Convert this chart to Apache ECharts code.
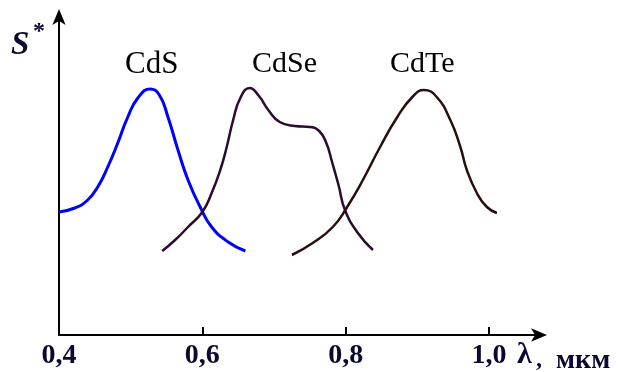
<!DOCTYPE html>
<html><head><meta charset="utf-8">
<script src="https://cdn.jsdelivr.net/npm/echarts@6/dist/echarts.min.js"></script>
<style>html,body{margin:0;padding:0;background:#fff}#c{width:619px;height:372px}</style>
</head><body><div id="c"></div>
<script>
const xTicks = [0.4, 0.6, 0.8, 1.0];
const cdS = [[0.400,123],[0.422,127],[0.440,135],[0.454,148],[0.468,168],[0.482,192],[0.496,218],[0.510,237],[0.527,246],[0.540,240],[0.552,218],[0.566,185],[0.580,155],[0.597,128],[0.613,108],[0.636,93],[0.660,84]];
const cdSe = [[0.544,84],[0.562,95],[0.580,108],[0.600,123],[0.613,142],[0.625,165],[0.634,188],[0.643,215],[0.653,237],[0.666,247],[0.679,239],[0.692,225],[0.708,213],[0.729,209],[0.750,208],[0.763,204],[0.773,192],[0.781,173],[0.790,150],[0.799,125],[0.817,102],[0.838,85]];
const cdTe = [[0.725,80],[0.754,92],[0.782,108],[0.802,128],[0.824,155],[0.848,188],[0.872,218],[0.893,238],[0.909,245],[0.927,238],[0.946,215],[0.960,188],[0.969,165],[0.983,142],[0.997,128],[1.011,122]];
const seriesNames = ['CdS','CdSe','CdTe'];

const chart = echarts.init(document.getElementById('c'));
const lbl = {fontFamily:'Liberation Serif', fontWeight:'bold', fontSize:28, color:'#0a0a30'};
chart.setOption({
  animation:false,
  grid:{left:59, right:78, top:15, bottom:37},
  xAxis:{type:'value', min:0.4, max:1.0725,
    axisLine:{lineStyle:{color:'#000', width:2}, symbol:['none','arrow'], symbolSize:[10,16], symbolOffset:[0,6]},
    axisTick:{show:true, inside:true, length:8, lineStyle:{color:'#000', width:2}, customValues:[0.6,0.8,1.0]},
    axisLabel:{customValues:xTicks, margin:7, formatter:v=>v.toFixed(1).replace('.',','), ...lbl},
    splitLine:{show:false}},
  yAxis:{type:'value', min:0, max:320,
    axisLine:{show:true, lineStyle:{color:'#000', width:2}, symbol:['none','arrow'], symbolSize:[10,16], symbolOffset:[0,6]},
    axisTick:{show:false}, axisLabel:{show:false}, splitLine:{show:false}},
  series:[
    {name:seriesNames[0], type:'line', data:cdS, smooth:0.5, showSymbol:false, lineStyle:{color:'#0000ff', width:3}},
    {name:seriesNames[1], type:'line', data:cdSe, smooth:0.5, showSymbol:false, lineStyle:{color:'#2d0a30', width:2.5}},
    {name:seriesNames[2], type:'line', data:cdTe, smooth:0.5, showSymbol:false, lineStyle:{color:'#2a0e0e', width:2.5}}
  ],
  graphic:[
    {type:'text', left:125, top:49, style:{text:'CdS', font:'31px "Liberation Serif"', fill:'#000'}},
    {type:'text', left:252, top:49, style:{text:'CdSe', font:'30px "Liberation Serif"', fill:'#000'}},
    {type:'text', left:390, top:49, style:{text:'CdTe', font:'30px "Liberation Serif"', fill:'#000'}},
    {type:'text', left:11, top:29, style:{text:'S', font:'italic bold 33px "Liberation Serif"', fill:'#0a0a30'}},
    {type:'text', left:33, top:20, style:{text:'*', font:'bold 24px "Liberation Serif"', fill:'#0a0a30'}},
    {type:'text', left:517, top:340, style:{text:'λ', font:'bold 30px "Liberation Serif"', fill:'#0a0a30'}},
    {type:'text', left:536, top:348, style:{text:',', font:'bold 24px "Liberation Serif"', fill:'#0a0a30'}},
    {type:'text', left:556, top:347, style:{text:'мкм', font:'bold 28px "Liberation Serif"', fill:'#0a0a30'}}
  ]
});
</script></body></html>
